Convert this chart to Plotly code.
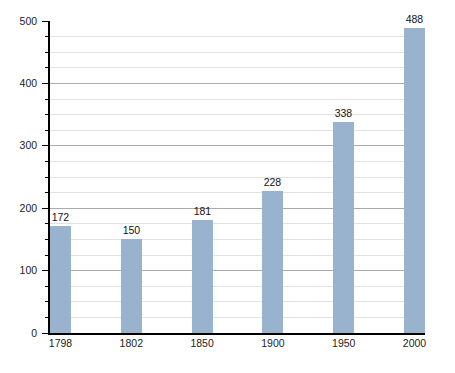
import plotly.graph_objects as go

years = ["1798", "1802", "1850", "1900", "1950", "2000"]
population = [172, 150, 181, 228, 338, 488]
y_ticks = [0, 100, 200, 300, 400, 500]

xpos = list(range(len(years)))

fig = go.Figure(go.Bar(
    x=xpos, y=population, width=0.297,
    marker=dict(color="#99b3cf", line=dict(width=0)),
    text=[str(v) for v in population], textposition="outside",
    textfont=dict(size=10.5, color="#111", family="Liberation Sans, Arial"),
    cliponaxis=False,
))

fig.update_layout(
    width=455, height=373,
    margin=dict(l=50, r=30, t=21, b=40),
    paper_bgcolor="white", plot_bgcolor="white",
    font=dict(family="Liberation Sans, Arial", size=10.5, color="#222"),
    showlegend=False,
    bargap=0,
)
fig.update_xaxes(
    range=[-0.148, 5.148], tickvals=xpos, ticktext=years,
    showgrid=False, showline=True, linecolor="black", linewidth=1.5,
    ticks="", zeroline=False, fixedrange=True,
)
fig.update_yaxes(
    range=[0, 500], tickvals=y_ticks,
    showgrid=True, gridcolor="#aaaaaa", gridwidth=1,
    showline=True, linecolor="black", linewidth=1.5,
    ticks="outside", ticklen=6, tickcolor="black",
    ticklabelstandoff=3,
    zeroline=False,
    minor=dict(dtick=25, showgrid=True, gridcolor="#e2e2e2", gridwidth=1,
               ticks="outside", ticklen=3, tickcolor="black"),
)

fig.write_html("out.html")
